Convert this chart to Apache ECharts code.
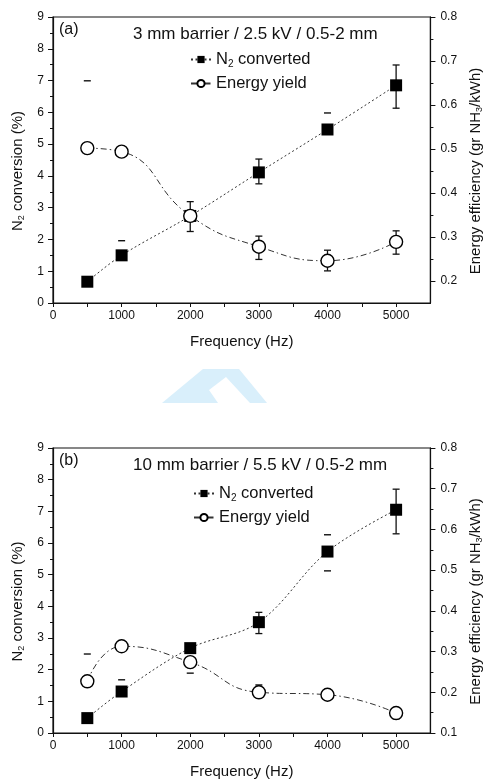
<!DOCTYPE html>
<html>
<head>
<meta charset="utf-8">
<script src="https://cdn.jsdelivr.net/npm/echarts@6.0.0/dist/echarts.min.js"></script>
<style>
  html, body { margin: 0; padding: 0; background: #fff; }
  #chart { width: 492px; height: 782px; }
</style>
</head>
<body>
<div id="chart"></div>
<script>
// Frequencies shared by both panels (Hz)
const freqs = [500, 1000, 2000, 3000, 4000, 5000];

// Panel (a): 3 mm barrier / 2.5 kV / 0.5-2 mm
const n2A = [0.67, 1.50, 2.74, 4.11, 5.46, 6.85];           // N2 conversion (%)
const energyA = [0.502, 0.494, 0.348, 0.278, 0.246, 0.289];  // gr NH3/kWh
const n2ErrA = [[2000, 2.25, 3.19], [3000, 3.75, 4.53], [5000, 6.13, 7.49]];
const n2CapsA = [[1000, 1.96], [4000, 5.98]];
const energyErrA = [[3000, 0.249, 0.302], [4000, 0.223, 0.270], [5000, 0.261, 0.314]];
const energyCapsA = [[500, 0.655]];

// Panel (b): 10 mm barrier / 5.5 kV / 0.5-2 mm
const n2B = [0.47, 1.31, 2.68, 3.50, 5.73, 7.05];
const energyB = [0.227, 0.313, 0.274, 0.200, 0.194, 0.149];
const n2ErrB = [[3000, 3.14, 3.81], [5000, 6.29, 7.70]];
const n2CapsB = [[1000, 1.68], [4000, 6.26], [4000, 5.12]];
const energyErrB = [];
const energyCapsB = [[500, 0.294], [2000, 0.247], [3000, 0.218], [5000, 0.135]];

// Axis ticks and labels
const xLabels = [0, 1000, 2000, 3000, 4000, 5000];
const xTicks = [0, 500, 1000, 1500, 2000, 2500, 3000, 3500, 4000, 4500, 5000];
const rightLabelsA = [0.2, 0.3, 0.4, 0.5, 0.6, 0.7, 0.8];
const rightMinorA = [0.25, 0.35, 0.45, 0.55, 0.65, 0.75];

const INK = '#111';
const FONT = '"Liberation Sans", Arial, sans-serif';

const grids = [
  { left: 53, right: 50, top: 17, height: 286 },
  { left: 53, right: 50, top: 448, height: 285 }
];

function xAxisFor(gi) {
  return {
    gridIndex: gi, type: 'value', min: 0, max: 5500,
    axisLine: { show: true, lineStyle: { color: INK, width: 1.2 } },
    axisTick: { show: true, length: 4, customValues: xTicks, lineStyle: { color: INK } },
    axisLabel: { customValues: xLabels, fontSize: 12, fontFamily: FONT, color: INK, margin: 7,
                 formatter: v => String(v) },
    splitLine: { show: false },
    name: 'Frequency (Hz)', nameLocation: 'middle', nameGap: 31,
    nameTextStyle: { fontSize: 15, fontFamily: FONT, color: INK }
  };
}

function leftAxisFor(gi) {
  return {
    gridIndex: gi, type: 'value', min: 0, max: 9, interval: 1, position: 'left',
    axisLine: { show: true, lineStyle: { color: INK, width: 1.2 } },
    axisTick: { show: true, length: 5, lineStyle: { color: INK } },
    minorTick: { show: true, splitNumber: 2, length: 3, lineStyle: { color: INK } },
    axisLabel: { fontSize: 12, fontFamily: FONT, color: INK, margin: 9 },
    splitLine: { show: false },
    name: '{t|N}{s|2}{t| conversion (%)}', nameLocation: 'middle', nameGap: 27, nameRotate: 90,
    nameTextStyle: {
      fontFamily: FONT, color: INK, padding: [0, 22, 0, 0],
      rich: {
        t: { fontSize: 15, fontFamily: FONT, color: INK },
        s: { fontSize: 9, fontFamily: FONT, color: INK, verticalAlign: 'bottom', padding: [8, 0, 0, 0] }
      }
    }
  };
}

const rightName = '{t|Energy efficiency (gr NH}{s|3}{t|/kWh)}';
const rightNameStyle = {
  fontFamily: FONT, color: INK, padding: [0, 22, 0, 0],
  rich: {
    t: { fontSize: 15, fontFamily: FONT, color: INK },
    s: { fontSize: 9, fontFamily: FONT, color: INK, verticalAlign: 'bottom', padding: [8, 0, 0, 0] }
  }
};

const yAxes = [
  leftAxisFor(0),
  {
    gridIndex: 0, type: 'value', min: 0.15, max: 0.8, position: 'right',
    axisLine: { show: true, lineStyle: { color: INK, width: 1.2 } },
    axisTick: { show: true, length: 5, customValues: rightLabelsA, lineStyle: { color: INK } },
    axisLabel: { customValues: rightLabelsA, fontSize: 12, fontFamily: FONT, color: INK, margin: 10,
                 formatter: v => v.toFixed(1) },
    splitLine: { show: false },
    name: rightName, nameLocation: 'middle', nameGap: 33, nameRotate: 90, nameTextStyle: rightNameStyle
  },
  {
    // minor ticks for the right-hand scale of panel (a)
    gridIndex: 0, type: 'value', min: 0.15, max: 0.8, position: 'right',
    axisLine: { show: false },
    axisTick: { show: true, length: 3, customValues: rightMinorA, lineStyle: { color: INK } },
    axisLabel: { show: false }, splitLine: { show: false }
  },
  leftAxisFor(1),
  {
    gridIndex: 1, type: 'value', min: 0.1, max: 0.8, interval: 0.1, position: 'right',
    axisLine: { show: true, lineStyle: { color: INK, width: 1.2 } },
    axisTick: { show: true, length: 5, lineStyle: { color: INK } },
    minorTick: { show: true, splitNumber: 2, length: 3, lineStyle: { color: INK } },
    axisLabel: { fontSize: 12, fontFamily: FONT, color: INK, margin: 10, formatter: v => v.toFixed(1) },
    splitLine: { show: false },
    name: rightName, nameLocation: 'middle', nameGap: 33, nameRotate: 90, nameTextStyle: rightNameStyle
  }
];

function pairs(xs, ys) { return xs.map((x, i) => [x, ys[i]]); }

function n2Series(xi, yi, values) {
  return {
    name: 'N2 converted', type: 'line', xAxisIndex: xi, yAxisIndex: yi, z: 3,
    data: pairs(freqs, values), smooth: 0.35,
    symbol: 'rect', symbolSize: 12,
    itemStyle: { color: '#000' },
    lineStyle: { color: '#333', width: 1, type: [2, 2.5] }
  };
}

function energySeries(xi, yi, values) {
  return {
    name: 'Energy yield', type: 'line', xAxisIndex: xi, yAxisIndex: yi, z: 4,
    data: pairs(freqs, values), smooth: 0.5,
    symbol: 'circle', symbolSize: 13,
    itemStyle: { color: '#fff', borderColor: '#000', borderWidth: 1.4 },
    lineStyle: { color: '#333', width: 1, type: [6, 3, 1.5, 3] }
  };
}

// Vertical error bars with caps
function errorBars(xi, yi, data) {
  return {
    type: 'custom', xAxisIndex: xi, yAxisIndex: yi, z: 2, silent: true,
    data: data, encode: { x: 0, y: [1, 2] },
    renderItem: function (params, api) {
      const x = api.value(0);
      const top = api.coord([x, api.value(2)]);
      const bot = api.coord([x, api.value(1)]);
      const w = 3.5;
      const st = { stroke: INK, lineWidth: 1.3 };
      return {
        type: 'group', children: [
          { type: 'line', shape: { x1: top[0], y1: top[1], x2: bot[0], y2: bot[1] }, style: st },
          { type: 'line', shape: { x1: top[0] - w, y1: top[1], x2: top[0] + w, y2: top[1] }, style: st },
          { type: 'line', shape: { x1: bot[0] - w, y1: bot[1], x2: bot[0] + w, y2: bot[1] }, style: st }
        ]
      };
    }
  };
}

// Isolated error-bar caps
function errorCaps(xi, yi, data) {
  return {
    type: 'custom', xAxisIndex: xi, yAxisIndex: yi, z: 2, silent: true,
    data: data, encode: { x: 0, y: 1 },
    renderItem: function (params, api) {
      const p = api.coord([api.value(0), api.value(1)]);
      return { type: 'line', shape: { x1: p[0] - 3.5, y1: p[1], x2: p[0] + 3.5, y2: p[1] },
               style: { stroke: INK, lineWidth: 1.4 } };
    }
  };
}

const legendText = {
  fontSize: 16.5, fontFamily: FONT, color: INK,
  rich: {
    t: { fontSize: 16.5, fontFamily: FONT, color: INK },
    s: { fontSize: 10, fontFamily: FONT, color: INK, verticalAlign: 'bottom', padding: [9, 0, 0, 0] }
  }
};
function legendFormatter(name) {
  return name === 'N2 converted' ? '{t|N}{s|2}{t| converted}' : '{t|' + name + '}';
}

const option = {
  animation: false,
  backgroundColor: '#fff',
  grid: grids.map(g => Object.assign({ show: true, borderColor: INK, borderWidth: 1.2, backgroundColor: 'transparent' }, g)),
  xAxis: [xAxisFor(0), xAxisFor(1)],
  yAxis: yAxes,
  legend: [
    { orient: 'vertical', left: 185, top: 46, itemGap: 6, itemWidth: 20, itemHeight: 9,
      data: ['N2 converted', 'Energy yield'], formatter: legendFormatter, textStyle: legendText, selectedMode: false },
    { orient: 'vertical', left: 188, top: 480, itemGap: 6, itemWidth: 20, itemHeight: 9,
      data: ['N2 converted', 'Energy yield'], formatter: legendFormatter, textStyle: legendText, selectedMode: false }
  ],
  graphic: [
    { type: 'text', left: 59, top: 22, style: { text: '(a)', font: '16px ' + FONT, fill: INK } },
    { type: 'text', left: 133, top: 26, style: { text: '3 mm barrier / 2.5 kV / 0.5-2 mm', font: '17px ' + FONT, fill: INK } },
    { type: 'text', left: 59, top: 453, style: { text: '(b)', font: '16px ' + FONT, fill: INK } },
    { type: 'text', left: 133, top: 457, style: { text: '10 mm barrier / 5.5 kV / 0.5-2 mm', font: '17px ' + FONT, fill: INK } },
    // faint logo between the panels
    { type: 'polygon', silent: true,
      shape: { points: [[162, 403], [203, 369], [239, 369], [267, 403], [250, 403], [226, 377], [209, 390], [218, 403]] },
      style: { fill: '#d9effb' } }
  ],
  series: [
    errorBars(0, 0, n2ErrA), errorCaps(0, 0, n2CapsA),
    errorBars(0, 1, energyErrA), errorCaps(0, 1, energyCapsA),
    n2Series(0, 0, n2A), energySeries(0, 1, energyA),
    errorBars(1, 3, n2ErrB), errorCaps(1, 3, n2CapsB),
    errorBars(1, 4, energyErrB), errorCaps(1, 4, energyCapsB),
    n2Series(1, 3, n2B), energySeries(1, 4, energyB)
  ]
};

const chart = echarts.init(document.getElementById('chart'), null, { renderer: 'canvas' });
chart.setOption(option);
</script>
</body>
</html>
